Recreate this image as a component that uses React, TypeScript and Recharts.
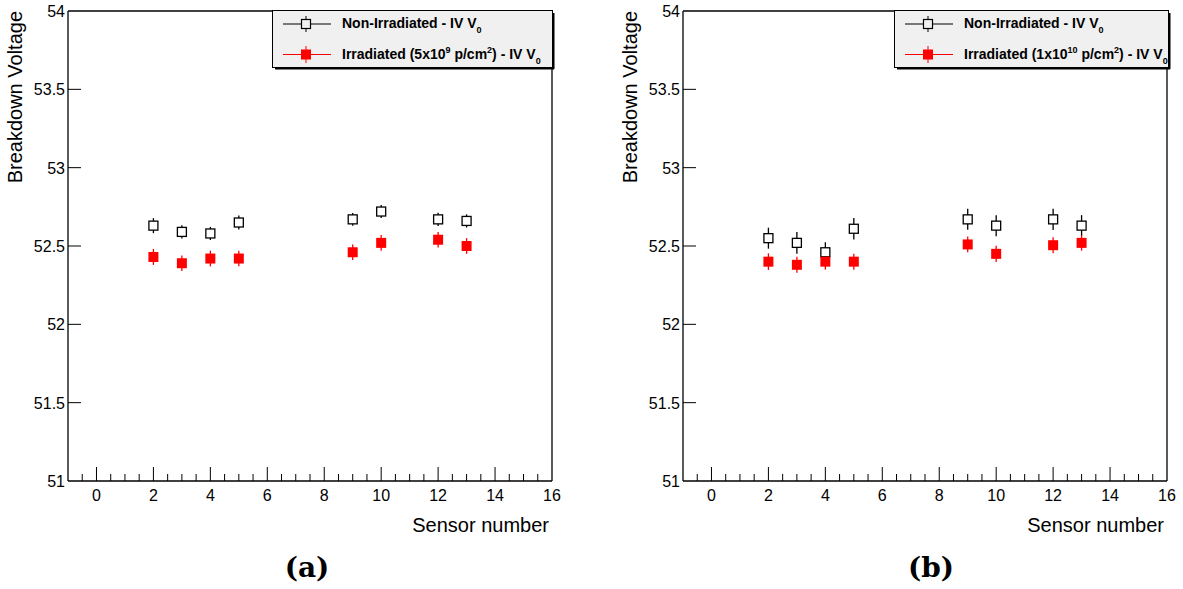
import React from 'react';
import { ScatterChart, Scatter, XAxis, YAxis, ErrorBar, ReferenceLine } from 'recharts';

const sensors = [2, 3, 4, 5, 9, 10, 12, 13];

const nonIrrA = [52.63, 52.59, 52.58, 52.65, 52.67, 52.72, 52.67, 52.66];
const nonIrrAErr = [0.048, 0.042, 0.042, 0.045, 0.041, 0.042, 0.042, 0.042];
const irrA = [52.43, 52.39, 52.42, 52.42, 52.46, 52.52, 52.54, 52.5];
const irrAErr = [0.051, 0.049, 0.05, 0.05, 0.05, 0.051, 0.05, 0.05];

const nonIrrB = [52.55, 52.52, 52.46, 52.61, 52.67, 52.63, 52.67, 52.63];
const nonIrrBErr = [0.067, 0.07, 0.064, 0.069, 0.067, 0.067, 0.068, 0.067];
const irrB = [52.4, 52.38, 52.4, 52.4, 52.51, 52.45, 52.505, 52.52];
const irrBErr = [0.053, 0.051, 0.051, 0.051, 0.05, 0.052, 0.051, 0.05];

const xTicks = [-0.5, 0, 0.5, 1, 1.5, 2, 2.5, 3, 3.5, 4, 4.5, 5, 5.5, 6, 6.5, 7, 7.5, 8, 8.5, 9, 9.5, 10, 10.5, 11, 11.5, 12, 12.5, 13, 13.5, 14, 14.5, 15, 15.5, 16];
const xLabelTicks = [0, 2, 4, 6, 8, 10, 12, 14, 16];
const yTicks = [51, 51.5, 52, 52.5, 53, 53.5, 54];

const FONT = '"Liberation Sans", Arial, Helvetica, sans-serif';

const toRows = (ys: number[], errs: number[]) =>
  sensors.map((s, i) => ({ x: s, y: ys[i], err: errs[i] }));

const XTick = (props: any) => {
  const { x, y, payload } = props;
  const v = payload.value;
  const major = xLabelTicks.includes(v);
  return (
    <g>
      {v < 16 && <line x1={x} x2={x} y1={y} y2={y - (major ? 14 : 7)} stroke="#000" strokeWidth={1} />}
      {major && (
        <text x={x} y={y + 20} textAnchor="middle" fontFamily={FONT} fontSize={16} fill="#000">{v}</text>
      )}
    </g>
  );
};

const YTick = (props: any) => {
  const { x, y, payload } = props;
  const v = payload.value;
  return (
    <g>
      {v > 51 && v < 54 && <line x1={x} x2={x + 13} y1={y} y2={y} stroke="#000" strokeWidth={1} />}
      <text x={x - 3} y={y + 6} textAnchor="end" fontFamily={FONT} fontSize={16} fill="#000">{v}</text>
    </g>
  );
};

const OpenSquare = (props: any) => {
  const { cx, cy } = props;
  return <rect x={cx - 4.5} y={cy - 4.5} width={9} height={9} fill="#fff" stroke="#000" strokeWidth={1.3} />;
};

const RedSquare = (props: any) => {
  const { cx, cy } = props;
  return <rect x={cx - 5} y={cy - 5} width={10} height={10} fill="#ff0000" />;
};

const NoShape = () => <g />;

const supStyle: React.CSSProperties = { fontSize: 9, verticalAlign: 'super', lineHeight: 0 };
const subStyle: React.CSSProperties = { fontSize: 9, position: 'relative', top: 5, lineHeight: 0 };

function LegendBox({ left, width, irrLabel }: { left: number; width: number; irrLabel: React.ReactNode }) {
  const textStyle: React.CSSProperties = {
    position: 'absolute',
    left: 70,
    fontFamily: FONT,
    fontWeight: 'bold',
    fontSize: 14,
    lineHeight: '16px',
    whiteSpace: 'nowrap',
    color: '#000',
  };
  return (
    <div style={{ position: 'absolute', left, top: 10, width, height: 59 }}>
      <svg width={width + 3} height={62} style={{ position: 'absolute', left: 0, top: 0 }}>
        <rect x={0.5} y={0.5} width={width - 2} height={57} fill="#f0f0f0" stroke="#000" strokeWidth={1} />
        <line x1={width - 0.5} x2={width - 0.5} y1={3} y2={59} stroke="#000" strokeWidth={2} />
        <line x1={3} x2={width} y1={58.5} y2={58.5} stroke="#000" strokeWidth={2} />
        <line x1={11} x2={59} y1={14} y2={14} stroke="#000" strokeWidth={1} />
        <line x1={34} x2={34} y1={6} y2={22} stroke="#000" strokeWidth={1} />
        <rect x={29.5} y={9.5} width={9} height={9} fill="#f0f0f0" stroke="#000" strokeWidth={1.2} />
        <line x1={11} x2={59} y1={44.5} y2={44.5} stroke="#ff0000" strokeWidth={1} />
        <line x1={34} x2={34} y1={36} y2={53} stroke="#ff0000" strokeWidth={1} />
        <rect x={29} y={39.5} width={10} height={10} fill="#ff0000" />
      </svg>
      <div style={{ ...textStyle, top: 5 }}>
        Non-Irradiated - IV V<span style={subStyle}>0</span>
      </div>
      <div style={{ ...textStyle, top: 36 }}>{irrLabel}</div>
    </div>
  );
}

function Panel({ nonIrr, irr }: { nonIrr: any[]; irr: any[] }) {
  return (
    <ScatterChart width={590} height={545} margin={{ top: 11, right: 38, left: 0, bottom: 0 }}>
      <XAxis
        type="number"
        dataKey="x"
        domain={[-1, 16]}
        ticks={xTicks}
        interval={0}
        tickSize={0}
        tickMargin={0}
        tickLine={false}
        height={64}
        axisLine={{ stroke: '#000', strokeWidth: 1.3 }}
        tick={<XTick />}
        allowDataOverflow
        label={{
          content: (p: any) => {
            const vb = p.viewBox;
            return (
              <text x={vb.x + vb.width - 3} y={vb.y + 51} textAnchor="end" fontFamily={FONT} fontSize={20} fill="#000">
                Sensor number
              </text>
            );
          },
        }}
      />
      <YAxis
        type="number"
        dataKey="y"
        domain={[51, 54]}
        ticks={yTicks}
        interval={0}
        tickSize={0}
        tickMargin={0}
        tickLine={false}
        width={68}
        axisLine={{ stroke: '#000', strokeWidth: 1.3 }}
        tick={<YTick />}
        allowDataOverflow
        label={{
          content: (p: any) => {
            const vb = p.viewBox;
            return (
              <text
                x={22}
                y={vb.y}
                transform={`rotate(-90 22 ${vb.y})`}
                textAnchor="end"
                fontFamily={FONT}
                fontSize={20}
                fill="#000"
              >
                Breakdown Voltage
              </text>
            );
          },
        }}
      />
      <ReferenceLine y={54} stroke="#000" strokeWidth={1.3} />
      <ReferenceLine x={16} stroke="#000" strokeWidth={1.3} />
      <Scatter data={nonIrr} shape={<NoShape />} isAnimationActive={false}>
        <ErrorBar dataKey="err" direction="y" width={0} stroke="#000" strokeWidth={1.3} isAnimationActive={false} />
      </Scatter>
      <Scatter data={irr} shape={<NoShape />} isAnimationActive={false}>
        <ErrorBar dataKey="err" direction="y" width={0} stroke="#ff0000" strokeWidth={1.3} isAnimationActive={false} />
      </Scatter>
      <Scatter data={nonIrr} shape={<OpenSquare />} isAnimationActive={false} />
      <Scatter data={irr} shape={<RedSquare />} isAnimationActive={false} />
    </ScatterChart>
  );
}

export default function App() {
  const captionStyle: React.CSSProperties = {
    position: 'absolute',
    top: 551,
    width: 100,
    textAlign: 'center',
    fontFamily: '"DejaVu Serif", "Liberation Serif", serif',
    fontWeight: 'bold',
    fontSize: 28,
    lineHeight: '34px',
    color: '#000',
  };
  return (
    <div style={{ position: 'absolute', left: 0, top: 0, width: 1183, height: 589, background: '#fff', overflow: 'hidden' }}>
      <div style={{ position: 'absolute', left: 0, top: 0 }}>
        <Panel nonIrr={toRows(nonIrrA, nonIrrAErr)} irr={toRows(irrA, irrAErr)} />
      </div>
      <div style={{ position: 'absolute', left: 615, top: 0 }}>
        <Panel nonIrr={toRows(nonIrrB, nonIrrBErr)} irr={toRows(irrB, irrBErr)} />
      </div>
      <LegendBox
        left={272}
        width={282}
        irrLabel={<>Irradiated (5x10<span style={supStyle}>9</span> p/cm<span style={supStyle}>2</span>) - IV V<span style={subStyle}>0</span></>}
      />
      <LegendBox
        left={894}
        width={276}
        irrLabel={<>Irradiated (1x10<span style={supStyle}>10</span> p/cm<span style={supStyle}>2</span>) - IV V<span style={subStyle}>0</span></>}
      />
      <div style={{ ...captionStyle, left: 257 }}>(a)</div>
      <div style={{ ...captionStyle, left: 881 }}>(b)</div>
    </div>
  );
}
